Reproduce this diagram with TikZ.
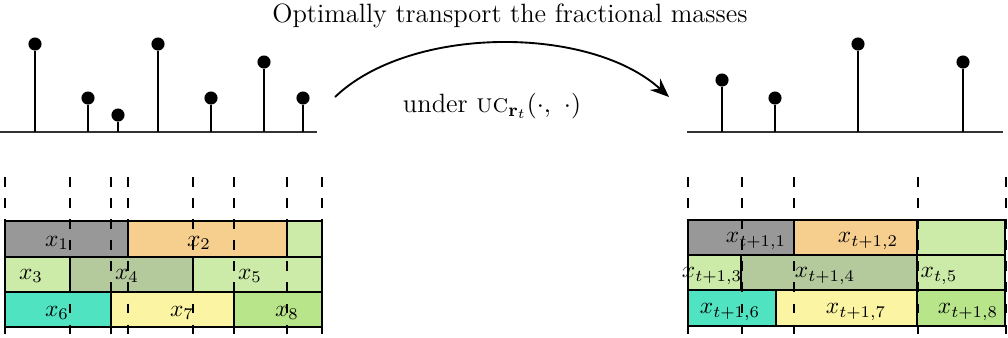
\documentclass[tikz,border=0pt]{standalone}
\usetikzlibrary{arrows.meta}
\definecolor{cgray}{RGB}{152,152,152}
\definecolor{corange}{RGB}{246,207,143}
\definecolor{clgreen}{RGB}{204,235,168}
\definecolor{csage}{RGB}{180,201,156}
\definecolor{cturq}{RGB}{80,227,194}
\definecolor{cyellow}{RGB}{251,244,162}
\definecolor{cgreen}{RGB}{184,229,138}
\tikzset{
  cell/.style={draw=black, line width=0.7pt},
  stem/.style={line width=0.7pt},
  axisline/.style={line width=0.8pt, draw=black!80},
  dot/.style={circle, fill=black, inner sep=0pt, minimum size=5.6pt},
  dline/.style={line width=0.65pt, dash pattern=on 4.2pt off 4.8pt, dash phase=0pt},
  lab/.style={inner sep=0pt, font=\normalsize},
  big/.style={inner sep=0pt, font=\fontsize{11.3}{13.5}\selectfont},
}
\begin{document}
\begin{tikzpicture}[x=0.015cm, y=-0.015cm]
\useasboundingbox (0,0) rectangle (1008,337);
% title
\node[big] (title) at (510,16) {Optimally transport the fractional masses};
\node[big] (under) at (492,106) {under \textsc{uc}$_{\mathbf{r}_t}(\cdot,\ \cdot)$};
% left stems
\coordinate (la) at (0,132); \coordinate (lb) at (317,132);
\draw[axisline] (la) -- (lb);
\foreach \i/\x/\y in {1/35/44, 2/88/98, 3/118/115, 4/158/44, 5/211/98, 6/264/62, 7/303/98}{
  \node[dot] (ld\i) at (\x,\y) {};
  \coordinate (lf\i) at (\x,132);
  \draw[stem] (ld\i) -- (lf\i);
}
% right stems
\coordinate (ra) at (687,132); \coordinate (rb) at (1003,132);
\draw[axisline] (ra) -- (rb);
\foreach \i/\x/\y in {1/722/80, 2/775/98, 3/858/44, 4/963/62}{
  \node[dot] (rd\i) at (\x,\y) {};
  \coordinate (rf\i) at (\x,132);
  \draw[stem] (rd\i) -- (rf\i);
}
% arrow
\coordinate (as) at (335,97);
\coordinate (ae) at (669,97);
\draw[line width=0.8pt, -{Stealth[length=8pt,width=6.5pt]}] (as) .. controls (410,25) and (590,25) .. (ae);
% left blocks
\fill[cgray] (5,221) rectangle (128,257);
\fill[corange] (128,221) rectangle (287,257);
\fill[clgreen] (287,221) rectangle (322,257);
\fill[clgreen] (5,257) rectangle (70,292);
\fill[csage] (70,257) rectangle (193,292);
\fill[clgreen] (193,257) rectangle (322,292);
\fill[cturq] (5,292) rectangle (111,327);
\fill[cyellow] (111,292) rectangle (234,327);
\fill[cgreen] (234,292) rectangle (322,327);
\draw[cell] (5,221) rectangle (128,257);
\draw[cell] (128,221) rectangle (287,257);
\draw[cell] (287,221) rectangle (322,257);
\draw[cell] (5,257) rectangle (70,292);
\draw[cell] (70,257) rectangle (193,292);
\draw[cell] (193,257) rectangle (322,292);
\draw[cell] (5,292) rectangle (111,327);
\draw[cell] (111,292) rectangle (234,327);
\draw[cell] (234,292) rectangle (322,327);
% right blocks
\fill[cgray] (688,220) rectangle (794,255);
\fill[corange] (794,220) rectangle (917,255);
\fill[clgreen] (917,220) rectangle (1005,255);
\fill[clgreen] (688,255) rectangle (741,290);
\fill[csage] (741,255) rectangle (917,290);
\fill[clgreen] (917,255) rectangle (1005,290);
\fill[cturq] (688,290) rectangle (776,326);
\fill[cyellow] (776,290) rectangle (917,326);
\fill[cgreen] (917,290) rectangle (1005,326);
\draw[cell] (688,220) rectangle (794,255);
\draw[cell] (794,220) rectangle (917,255);
\draw[cell] (917,220) rectangle (1005,255);
\draw[cell] (688,255) rectangle (741,290);
\draw[cell] (741,255) rectangle (917,290);
\draw[cell] (917,255) rectangle (1005,290);
\draw[cell] (688,290) rectangle (776,326);
\draw[cell] (776,290) rectangle (917,326);
\draw[cell] (917,290) rectangle (1005,326);
% dashed lines
\foreach \x in {5,70,111,128,193,234,287,322}{
  \draw[dline] (\x,177) -- (\x,337);
}
\foreach \x in {688,742,794,918,1006}{
  \draw[dline] (\x,177) -- (\x,337);
}
% labels left
\node[lab] (x1) at (57,243) {$x_1$};
\node[lab] (x2) at (199,243) {$x_2$};
\node[lab] (x3) at (31,276) {$x_3$};
\node[lab] (x4) at (127,276) {$x_4$};
\node[lab] (x5) at (250,276) {$x_5$};
\node[lab] (x6) at (57,313) {$x_6$};
\node[lab] (x7) at (182,313) {$x_7$};
\node[lab] (x8) at (287,313) {$x_8$};
% labels right
\node[lab] (y1) at (756,241) {$x_{t+1,1}$};
\node[lab] (y2) at (868,241) {$x_{t+1,2}$};
\node[lab] (y3) at (712,276) {$x_{t+1,3}$};
\node[lab] (y4) at (825,276) {$x_{t+1,4}$};
\node[lab] (y5) at (939,276) {$x_{t,5}$};
\node[lab] (y6) at (730,312) {$x_{t+1,6}$};
\node[lab] (y7) at (856,312) {$x_{t+1,7}$};
\node[lab] (y8) at (968,312) {$x_{t+1,8}$};
\end{tikzpicture}
\end{document}
